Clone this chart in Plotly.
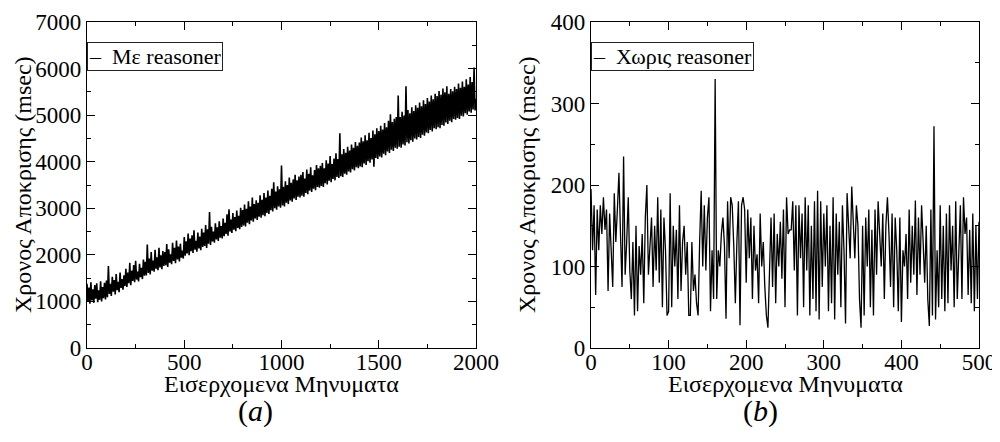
import plotly.graph_objects as go

# ---- data ----
msgs_a = list(range(0, 2001, 5))
with_reasoner = [
    1380, 990, 1300, 950, 1410, 1020, 1260, 970, 1350, 1060, 1390, 985, 1240, 1035, 1430, 1000, 1310, 1070, 1400, 1040,
    1450, 1090, 1760, 1160, 1380, 1120, 1530, 1210, 1460, 1150, 1590, 1240, 1420, 1200, 1620, 1290, 1480, 1250, 1560, 1330,
    1700, 1310, 1620, 1390, 1830, 1350, 1660, 1440, 1780, 1410, 1870, 1470, 1640, 1430, 1810, 1520, 1720, 1480, 1900, 1550,
    1850, 1560, 2220, 1610, 1920, 1580, 2060, 1660, 1880, 1640, 2110, 1700, 1950, 1670, 2150, 1730, 1990, 1690, 2080, 1760,
    2060, 1780, 2230, 1740, 2120, 1830, 2010, 1800, 2260, 1870, 2150, 1820, 2310, 1900, 2180, 1860, 2240, 1940, 2090, 1920,
    2380, 1980, 2290, 2030, 2460, 1990, 2350, 2080, 2420, 2040, 2530, 2110, 2300, 2070, 2480, 2140, 2390, 2100, 2560, 2170,
    2480, 2190, 2640, 2150, 2550, 2240, 2920, 2210, 2600, 2290, 2500, 2260, 2680, 2330, 2590, 2300, 2720, 2370, 2620, 2350,
    2780, 2400, 2690, 2450, 2870, 2410, 2980, 2500, 2760, 2470, 2900, 2540, 2810, 2510, 2950, 2580, 2840, 2550, 3010, 2600,
    2960, 2630, 3080, 2610, 2990, 2690, 3150, 2660, 3040, 2740, 3230, 2710, 3090, 2780, 3170, 2750, 3120, 2820, 3280, 2800,
    3180, 2850, 3330, 2830, 3230, 2900, 3380, 2880, 3270, 2960, 3420, 2930, 3560, 3000, 3360, 2970, 3470, 3040, 3410, 3010,
    3920, 3060, 3460, 3040, 3580, 3120, 3500, 3090, 3660, 3170, 3550, 3140, 3620, 3210, 3720, 3180, 3600, 3250, 3680, 3230,
    3720, 3270, 3780, 3250, 3640, 3330, 3830, 3300, 3740, 3380, 3880, 3350, 3710, 3420, 3820, 3390, 3930, 3460, 3860, 3440,
    3910, 3480, 3970, 3460, 3860, 3540, 4030, 3510, 3960, 3590, 4120, 3560, 3950, 3630, 4070, 3600, 4180, 3670, 4060, 3650,
    4610, 3690, 4160, 3670, 4270, 3740, 4190, 3720, 4320, 3790, 4240, 3770, 4370, 3840, 4300, 3810, 4420, 3880, 4340, 3860,
    4410, 3900, 4520, 3880, 4440, 3960, 4570, 3930, 4460, 4010, 4620, 3980, 4510, 4050, 4670, 3890, 4590, 4080, 4720, 4060,
    4660, 4110, 4770, 4090, 4690, 4170, 4830, 4140, 4740, 4220, 4880, 4190, 5020, 4260, 4850, 4230, 4920, 4300, 4960, 4280,
    5420, 4320, 4960, 4300, 5070, 4370, 4990, 4350, 5620, 4420, 5110, 4390, 5040, 4460, 5170, 4430, 5090, 4500, 5210, 4480,
    5160, 4530, 5270, 4510, 5190, 4580, 5320, 4560, 5240, 4630, 5370, 4610, 5290, 4680, 5420, 4650, 5340, 4720, 5460, 4700,
    5410, 4740, 5520, 4720, 5440, 4790, 5570, 4770, 5490, 4840, 5620, 4810, 5460, 4880, 5560, 4850, 5510, 4920, 5610, 4900,
    5560, 4940, 5680, 4920, 5590, 4990, 5720, 4970, 5610, 5040, 5770, 5010, 5660, 5080, 5820, 5050, 5710, 5120, 6020, 5100,
    5350,
]

msgs_b = list(range(0, 501, 2))
without_reasoner = [
    195, 120, 175, 65, 170, 120, 175, 140, 185, 145,
    170, 70, 165, 110, 75, 190, 130, 170, 215, 140,
    75, 235, 90, 130, 185, 95, 60, 130, 40, 150,
    45, 125, 90, 140, 55, 160, 200, 90, 120, 160,
    75, 150, 95, 185, 80, 170, 50, 160, 120, 40,
    45, 190, 50, 150, 100, 145, 60, 175, 70, 130,
    150, 90, 130, 40, 40, 130, 70, 90, 55, 40,
    130, 193, 100, 175, 95, 160, 185, 45, 120, 60,
    330, 60, 120, 100, 140, 160, 125, 36, 180, 110,
    185, 175, 125, 55, 130, 180, 28, 175, 185, 170,
    80, 170, 110, 160, 60, 150, 95, 115, 55, 165,
    100, 130, 75, 40, 25, 110, 160, 75, 165, 55,
    140, 100, 155, 85, 170, 50, 185, 140, 145, 145,
    180, 95, 175, 40, 175, 110, 165, 50, 185, 95,
    175, 40, 150, 60, 180, 45, 193, 35, 180, 75,
    165, 100, 175, 45, 150, 55, 185, 35, 165, 90,
    155, 50, 175, 120, 30, 190, 150, 110, 198, 150,
    110, 175, 150, 60, 25, 150, 40, 160, 100, 170,
    50, 145, 40, 170, 90, 180, 130, 100, 165, 60,
    150, 185, 140, 75, 165, 50, 160, 120, 45, 160,
    32, 120, 100, 140, 60, 170, 80, 150, 90, 181,
    65, 160, 90, 175, 130, 80, 150, 60, 27, 170,
    40, 272, 35, 120, 50, 175, 60, 150, 45, 165,
    55, 175, 95, 150, 50, 180, 60, 130, 175, 60,
    185, 140, 160, 65, 145, 55, 165, 45, 150, 60,
    155,
]

name_a = "Με reasoner"
name_b = "Χωρις reasoner"
x_title = "Εισερχομενα Μηνυματα"
y_title = "Χρονος Αποκρισης (msec)"

FONT = "'Liberation Serif', 'Times New Roman', Times, 'DejaVu Serif', serif"

fig = go.Figure()
fig.add_trace(go.Scatter(x=msgs_a, y=with_reasoner, mode="lines", name=name_a,
                         line=dict(color="black", width=1.6), xaxis="x", yaxis="y",
                         showlegend=False))
fig.add_trace(go.Scatter(x=msgs_b, y=without_reasoner, mode="lines", name=name_b,
                         line=dict(color="black", width=1.3), xaxis="x2", yaxis="y2",
                         showlegend=False))

W, H = 1000, 442
OFF = 8  # the page places the figure 8px in from the top-left corner


def px_x(v):
    return (v - OFF) / W


def px_y(v):
    return 1 - (v - OFF) / H


ydom = [px_y(348), px_y(22)]


def axis_common(dtick, minor_dtick, rng, is_x):
    return dict(
        range=rng, dtick=dtick, tick0=0, showgrid=False, zeroline=False,
        showline=True, linecolor="black", linewidth=1.2, mirror="allticks",
        ticks="inside", ticklen=8, tickwidth=1.2, tickcolor="black",
        tickfont=dict(family=FONT, size=23, color="black"),
        ticklabelstandoff=(-7 if is_x else 0),
        automargin=False,
        minor=dict(dtick=minor_dtick, ticks="inside", ticklen=4, tickwidth=1.2,
                   tickcolor="black", showgrid=False),
    )


fig.update_layout(
    width=W, height=H,
    margin=dict(l=0, r=0, t=0, b=0, autoexpand=False),
    paper_bgcolor="white", plot_bgcolor="white",
    xaxis=dict(domain=[px_x(87), px_x(476)], anchor="y", **axis_common(500, 250, [0, 2000], True)),
    yaxis=dict(domain=ydom, anchor="x", **axis_common(1000, 500, [0, 7000], False)),
    xaxis2=dict(domain=[px_x(591), px_x(979)], anchor="y2", **axis_common(100, 50, [0, 500], True)),
    yaxis2=dict(domain=ydom, anchor="x2", **axis_common(100, 50, [0, 400], False)),
    showlegend=False,
)

title_font = dict(family=FONT, size=24, color="black")
# axis titles
for xc in (281, 785):
    fig.add_annotation(xref="paper", yref="paper", x=px_x(xc), y=px_y(384),
                       xanchor="center", yanchor="middle", text=x_title,
                       showarrow=False, font=title_font)
for xc in (23, 527):
    fig.add_annotation(xref="paper", yref="paper", x=px_x(xc), y=px_y(185),
                       xanchor="center", yanchor="middle", text=y_title, textangle=-90,
                       showarrow=False, font=title_font)

# legend boxes (bordered text labels)
for xr, yr, label in [("x domain", "y domain", name_a), ("x2 domain", "y2 domain", name_b)]:
    fig.add_annotation(
        xref=xr, yref=yr, x=0.0, y=(348 - 42) / 326, xanchor="left", yanchor="top",
        text="–  " + label, showarrow=False, align="left",
        font=dict(family=FONT, size=22, color="black"),
        bordercolor="#222", borderwidth=1, borderpad=1, bgcolor="white",
    )

# panel captions
for xc, cap in [(255, "(<i>a</i>)"), (760, "(<i>b</i>)")]:
    fig.add_annotation(
        xref="paper", yref="paper", x=px_x(xc), y=px_y(411),
        xanchor="center", yanchor="middle", text=cap, showarrow=False,
        font=dict(family=FONT, size=30, color="black"),
    )

fig.write_html("out.html")
